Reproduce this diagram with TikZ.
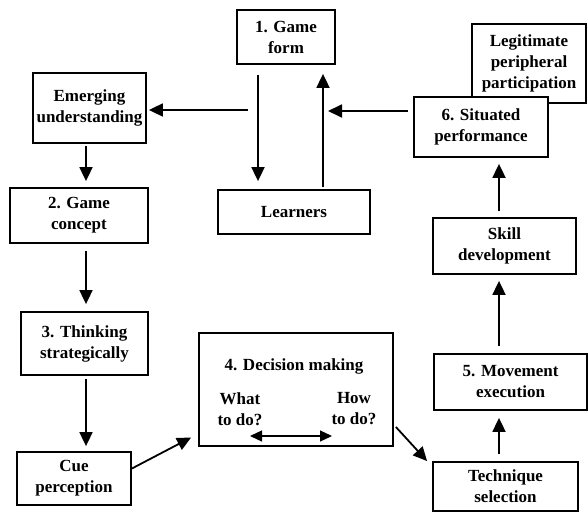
\documentclass[tikz,border=0pt]{standalone}
\usepackage{fontspec}
\setmainfont{Liberation Serif}
\usetikzlibrary{arrows.meta}

\tikzset{
  box/.style={draw, line width=1.8pt, fill=white, align=center, inner sep=0pt,
    font=\fontsize{17}{21}\selectfont\bfseries},
  txt/.style={align=center, inner sep=0pt, font=\fontsize{17}{21}\selectfont\bfseries},
  arr/.style={line width=1.8pt, -{Triangle[length=14pt,width=13pt]}},
  dblarr/.style={line width=1.3pt, {Triangle[length=12pt,width=11pt]}-{Triangle[length=12pt,width=11pt]}}
}

\begin{document}
\begin{tikzpicture}[x=1pt,y=-1pt]
  \useasboundingbox (0,0) rectangle (588,513);

  % boxes
  \node[box, minimum width=98pt, minimum height=54pt] (form) at (286,37) {1. Game\\form};
  \node[box, minimum width=113pt, minimum height=70pt] (emerg) at (89.5,108) {Emerging\\understanding};
  \node[box, minimum width=152pt, minimum height=44pt] (learn) at (294,212) {Learners};
  \node[box, minimum width=114pt, minimum height=79pt] (legit) at (529,63.5) {Legitimate\\peripheral\\participation};
  \node[box, minimum width=134pt, minimum height=60pt] (situ) at (481,127) {6. Situated\\performance};
  \node[box, minimum width=143pt, minimum height=56pt] (skill) at (504.5,246) {Skill\\development};
  \node[box, minimum width=138pt, minimum height=55pt] (concept) at (79,215.5) {2. Game\\concept};
  \node[box, minimum width=127pt, minimum height=63pt] (think) at (84.5,343.5) {3. Thinking\\strategically};
  \node[box, minimum width=114pt, minimum height=53pt] (cue) at (74,478.5) {Cue\\perception};
  \node[box, minimum width=194pt, minimum height=113pt] (decide) at (296,389.5) {};
  \node[box, minimum width=153pt, minimum height=56pt] (move) at (510.5,382) {5. Movement\\execution};
  \node[box, minimum width=145pt, minimum height=49pt] (tech) at (505.5,486.5) {Technique\\selection};

  % inside decision making
  \node[txt] (dtitle) at (294,366) {4. Decision making};
  \node[txt] (whatdo) at (240,409) {What\\to do?};
  \node[txt] (howdo) at (354,409) {How\\to do?};
  \coordinate (dl) at (250,436);
  \coordinate (dr) at (332,436);
  \draw[dblarr] (dl) -- (dr);

  % free ends
  \coordinate (ej) at (248,110);
  \coordinate (sj) at (328,111);

  % arrows
  \draw[arr, shorten <=10pt, shorten >=8pt] ([xshift=-28pt]form.south) -- ([xshift=-36pt]learn.north);
  \draw[arr, shorten <=2pt, shorten >=9pt] ([xshift=29pt]learn.north) -- ([xshift=37pt]form.south);
  \draw[arr, shorten >=2pt] (ej) -- (emerg.east |- ej);
  \draw[arr, shorten <=5pt] ([yshift=16pt]situ.west) -- (sj);
  \draw[arr, shorten <=2pt, shorten >=6pt] ([xshift=-3.5pt]emerg.south) -- ([xshift=7pt]concept.north);
  \draw[arr, shorten <=7pt, shorten >=7pt] ([xshift=7pt]concept.south) -- ([xshift=1.5pt]think.north);
  \draw[arr, shorten <=3pt, shorten >=5pt] ([xshift=1.5pt]think.south) -- ([xshift=12pt]cue.north);
  \draw[arr] ([yshift=10pt]cue.east) -- ([xshift=-7pt,yshift=-48pt]decide.west);
  \draw[arr] ([xshift=2pt,yshift=-37.5pt]decide.east) -- ([xshift=-5pt]tech.north west);
  \draw[arr, shorten <=7pt, shorten >=7pt] ([xshift=-6.5pt]tech.north) -- ([xshift=-11.5pt]move.south);
  \draw[arr, shorten <=7pt, shorten >=6pt] ([xshift=-11.5pt]move.north) -- ([xshift=-5.5pt]skill.south);
  \draw[arr, shorten <=6pt, shorten >=6pt] ([xshift=-5.5pt]skill.north) -- ([xshift=18pt]situ.south);
\end{tikzpicture}
\end{document}
